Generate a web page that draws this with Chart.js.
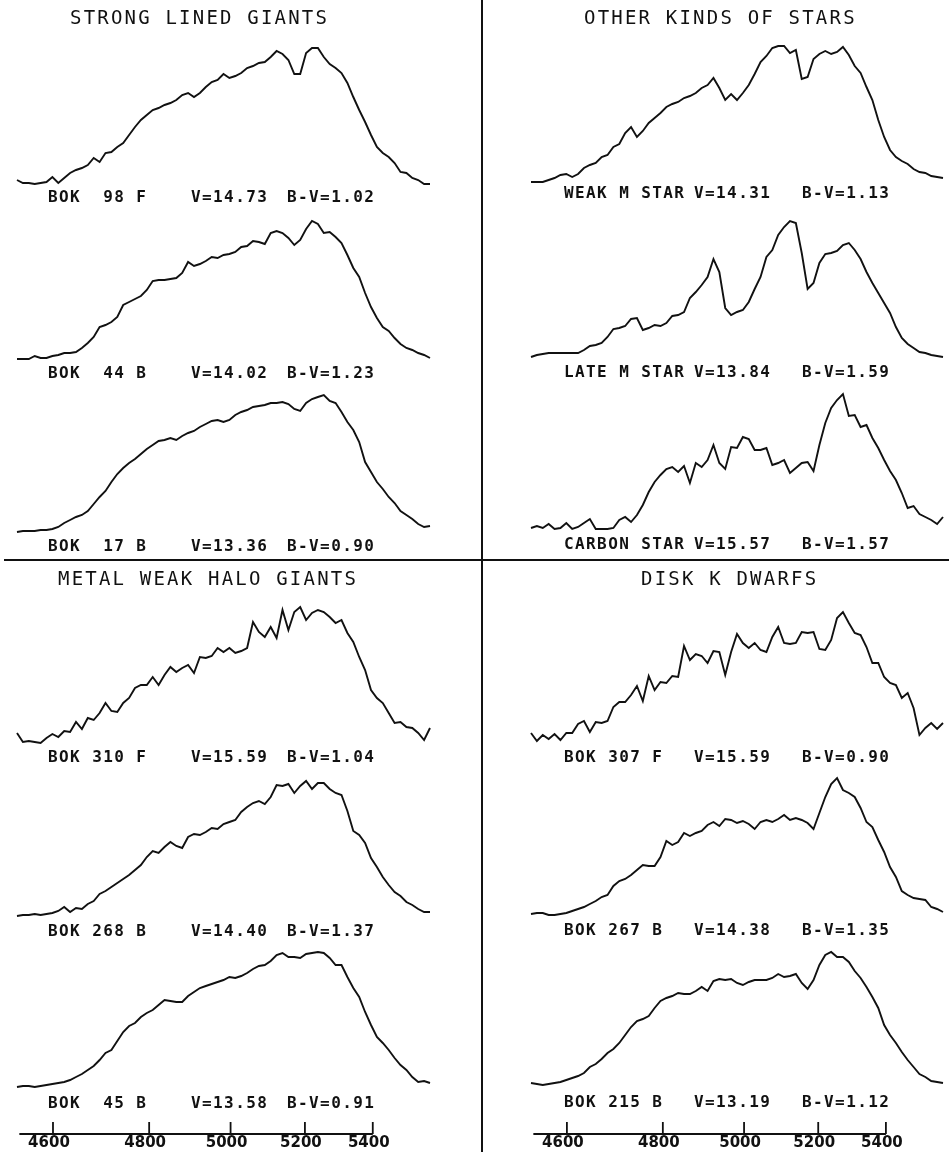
<!DOCTYPE html>
<html>
<head>
<meta charset="utf-8">
<script src="https://cdn.jsdelivr.net/npm/chart.js@4/dist/chart.umd.min.js"></script>
<style>
  body { margin: 0; background: #fff; }
  #page { position: relative; width: 949px; height: 1154px; overflow: hidden; background: #fff; }
  canvas { position: absolute; top: 0; }
  .rule { position: absolute; background: #111; }
  .txt { position: absolute; white-space: pre; color: #111; font-family: "DejaVu Sans Mono", monospace; line-height: 1; }
  .title { font-size: 19px; letter-spacing: 2.2px; }
  .lab { font-size: 16px; letter-spacing: 1.4px; font-weight: bold; }
</style>
</head>
<body>
<div id="page">
  <canvas id="leftChart" width="476" height="1154" style="left:0"></canvas>
  <canvas id="rightChart" width="473" height="1154" style="left:476px"></canvas>
  <div class="rule" style="left:481px;top:0;width:2px;height:1152px"></div>
  <div class="rule" style="left:4px;top:559px;width:945px;height:2px"></div>
</div>
<script>
// wavelength axis (non-linear dispersion): labels and where they fall on the sample grid
const tickLabels = [4600, 4800, 5000, 5200, 5400];
const tickPos = [6.1, 22.4, 36.2, 48.8, 60.3];
const axisStart = 0.4;

const titles = ['STRONG LINED GIANTS', 'OTHER KINDS OF STARS', 'METAL WEAK HALO GIANTS', 'DISK K DWARFS'];

const leftNames = ['BOK  98 F', 'BOK  44 B', 'BOK  17 B', 'BOK 310 F', 'BOK 268 B', 'BOK  45 B'];
const leftV = ['14.73', '14.02', '13.36', '15.59', '14.40', '13.58'];
const leftBV = ['1.02', '1.23', '0.90', '1.04', '1.37', '0.91'];

const rightNames = ['WEAK M STAR', 'LATE M STAR', 'CARBON STAR', 'BOK 307 F', 'BOK 267 B', 'BOK 215 B'];
const rightV = ['14.31', '13.84', '15.57', '15.59', '14.38', '13.19'];
const rightBV = ['1.13', '1.59', '1.57', '0.90', '1.35', '1.12'];

// relative flux, 71 samples across each trace
const bok98F = [5,2,2,1,2,3,8,2,7,12,15,17,20,27,23,32,33,38,42,50,58,65,70,75,77,80,82,85,90,92,88,92,98,103,105,111,107,109,112,117,119,122,123,128,134,131,125,111,111,132,137,137,128,121,117,112,102,88,75,63,50,38,32,28,22,13,12,7,5,1,1];
const bok44B = [2,2,2,5,3,3,5,6,8,8,9,13,18,24,34,36,39,44,56,59,62,65,71,80,81,81,82,83,88,99,95,97,100,104,103,106,107,109,114,115,120,119,117,128,130,128,123,116,121,132,140,137,128,129,124,118,106,93,84,68,54,43,34,30,23,17,13,11,8,6,3];
const bok17B = [2,3,3,3,4,4,5,7,11,14,17,19,23,30,37,43,52,60,66,71,75,80,85,89,93,94,96,94,98,101,103,107,110,113,114,112,114,119,122,124,127,128,129,131,131,132,130,125,123,131,135,137,139,133,131,122,112,104,92,72,62,52,45,37,31,23,19,15,10,7,8];
const bok310F = [10,1,2,1,0,5,9,6,12,11,21,14,25,23,30,40,32,31,40,45,55,58,58,66,58,68,76,71,75,78,70,86,85,87,95,91,95,90,92,95,121,111,106,116,105,133,113,131,136,123,130,133,131,126,120,123,110,101,86,73,53,45,40,30,20,21,16,15,10,3,15];
const bok268B = [2,3,3,4,3,4,5,7,11,6,10,9,14,17,24,27,31,35,39,43,48,53,61,67,65,71,76,72,70,81,84,83,86,90,89,94,96,98,106,111,115,117,114,121,133,132,134,125,132,137,129,135,135,129,125,123,107,87,83,75,60,51,41,33,26,22,16,13,9,6,6];
const bok45B = [2,3,3,2,3,4,5,6,7,9,12,15,19,23,29,36,39,48,57,63,66,72,76,79,84,89,88,87,87,93,97,101,103,105,107,109,112,111,113,116,120,123,124,128,134,136,132,132,131,135,136,137,136,131,124,124,112,101,92,77,64,52,46,39,31,24,19,12,7,8,6];

const weakM = [1,1,1,3,5,8,9,6,9,15,18,20,26,28,36,39,50,56,46,52,60,65,70,76,79,81,85,87,90,95,98,105,95,83,89,83,90,98,109,121,127,135,137,137,130,133,104,106,124,129,132,129,131,136,128,117,110,96,83,63,46,33,26,22,19,14,11,10,7,6,5];
const lateM = [2,4,5,6,6,6,6,6,6,9,13,14,16,22,30,31,33,40,41,29,31,34,33,36,43,44,47,61,67,74,82,100,87,51,44,47,49,57,70,82,102,109,124,132,138,136,106,70,76,96,105,106,108,114,116,109,100,87,76,66,56,46,32,21,15,11,7,6,4,3,2];
const carbon = [1,3,1,5,0,1,6,0,2,6,10,0,0,0,1,9,12,7,14,24,37,47,54,60,62,57,63,46,66,62,69,84,66,60,82,81,92,90,79,79,81,64,66,69,56,61,66,67,58,84,106,121,129,135,113,114,102,104,91,81,69,58,49,36,21,23,15,12,9,5,12];
const bok307F = [10,2,8,4,9,3,10,10,19,22,11,21,20,22,36,41,41,48,57,42,67,53,61,60,67,66,97,83,89,87,80,92,91,68,91,109,100,95,100,93,91,106,116,100,99,100,111,110,111,94,93,103,125,131,120,110,108,96,80,80,66,60,58,45,50,35,8,15,20,14,20];
const bok267B = [2,3,3,1,1,2,3,5,7,9,12,15,19,21,30,35,37,41,46,51,50,50,59,75,71,74,83,80,83,85,91,94,90,97,96,93,95,92,87,94,96,94,97,101,96,98,96,93,87,103,119,132,138,126,123,119,108,94,89,76,64,49,39,25,21,18,17,16,9,7,4];
const bok215B = [3,2,1,2,3,4,6,8,10,13,19,22,27,33,37,43,51,59,65,67,70,78,85,88,90,93,92,92,95,99,95,105,107,106,107,103,101,104,106,106,106,108,112,109,110,112,103,97,106,121,131,134,129,129,124,115,108,99,89,78,61,51,43,34,26,19,12,9,5,4,3];

// layout: vertical offset of each trace above the wavelength axis
const leftBase = [949, 773, 600, 391, 216, 45];
const rightBase = [951, 775, 605, 391, 218, 48];
const leftRowY = [197, 373, 546, 757, 931, 1103];
const rightRowY = [193, 372, 544, 757, 930, 1102];
const titlePos = [[70, 17], [584, 17], [58, 578], [641, 578]];

const ink = '#111';

const axisPlugin = {
    id: 'waveAxis',
    afterDraw(chart) {
        const xs = chart.scales.x;
        const y = chart.chartArea.bottom;
        const ctx = chart.ctx;
        ctx.save();
        ctx.strokeStyle = ink;
        ctx.lineWidth = 1.8;
        ctx.beginPath();
        ctx.moveTo(xs.getPixelForValue(axisStart), y);
        ctx.lineTo(xs.getPixelForValue(tickPos[tickPos.length - 1]), y);
        tickPos.forEach(v => {
            const px = xs.getPixelForValue(v);
            ctx.moveTo(px, y);
            ctx.lineTo(px, y - 12);
        });
        ctx.stroke();
        ctx.restore();
    }
};

function makeChart(id, series, bases, padding) {
    const ctx = document.getElementById(id).getContext('2d');
    return new Chart(ctx, {
        type: 'line',
        data: {
            datasets: series.map((flux, k) => ({
                data: flux.map((v, i) => ({ x: i, y: bases[k] + v })),
                borderColor: ink,
                borderWidth: 1.9,
                pointRadius: 0,
                tension: 0,
                fill: false
            }))
        },
        options: {
            responsive: false,
            animation: false,
            devicePixelRatio: 1,
            clip: false,
            layout: { padding: padding, autoPadding: false },
            plugins: { legend: { display: false }, tooltip: { enabled: false } },
            scales: {
                x: {
                    type: 'linear',
                    min: 0,
                    max: 70,
                    afterBuildTicks: s => { s.ticks = tickPos.map(v => ({ value: v })); },
                    afterFit: s => { s.height = 20; },
                    grid: { display: false, drawTicks: false },
                    border: { display: false },
                    ticks: {
                        autoSkip: false,
                        maxRotation: 0,
                        padding: 0,
                        labelOffset: -4,
                        color: ink,
                        font: { family: 'DejaVu Sans', size: 15, weight: 'bold' },
                        callback: (v, i) => tickLabels[i]
                    }
                },
                y: { display: false, min: 0, max: 1134 }
            }
        },
        plugins: [axisPlugin]
    });
}

makeChart('leftChart', [bok98F, bok44B, bok17B, bok310F, bok268B, bok45B], leftBase,
    { left: 17, right: 46, top: 0, bottom: 0 });
makeChart('rightChart', [weakM, lateM, carbon, bok307F, bok267B, bok215B], rightBase,
    { left: 55, right: 6, top: 0, bottom: 0 });

// text
const page = document.getElementById('page');
function addText(str, cls, x, yCenter, size) {
    const d = document.createElement('div');
    d.className = 'txt ' + cls;
    d.textContent = str;
    d.style.left = x + 'px';
    d.style.top = (yCenter - 0.48 * size) + 'px';
    page.appendChild(d);
}
titles.forEach((t, i) => addText(t, 'title', titlePos[i][0], titlePos[i][1], 19));
leftNames.forEach((n, i) => {
    addText(n, 'lab', 48, leftRowY[i], 16);
    addText('V=' + leftV[i], 'lab', 191, leftRowY[i], 16);
    addText('B-V=' + leftBV[i], 'lab', 287, leftRowY[i], 16);
});
rightNames.forEach((n, i) => {
    addText(n, 'lab', 564, rightRowY[i], 16);
    addText('V=' + rightV[i], 'lab', 694, rightRowY[i], 16);
    addText('B-V=' + rightBV[i], 'lab', 802, rightRowY[i], 16);
});
</script>
</body>
</html>
